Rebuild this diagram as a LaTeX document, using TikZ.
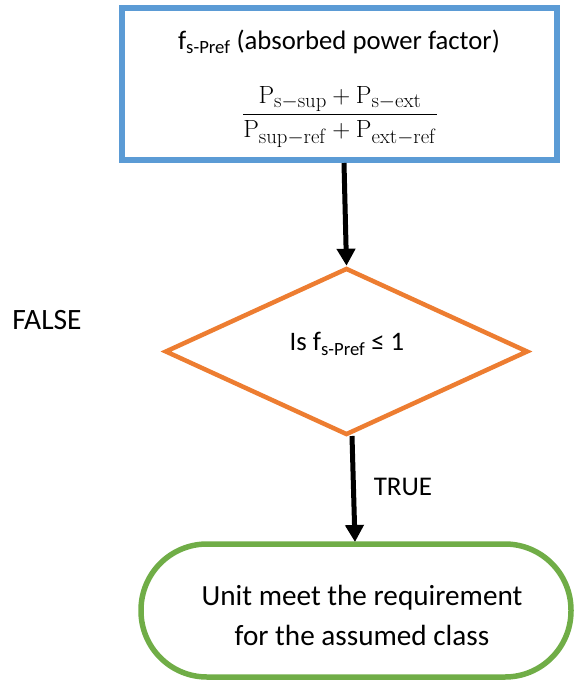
\documentclass[tikz,border=0pt]{standalone}
\usepackage[no-math]{fontspec}
\setmainfont{Carlito}
\DeclareMathSizes{26}{26}{21}{16}
\usetikzlibrary{arrows.meta,shapes.geometric}
\definecolor{boxblue}{HTML}{5B9BD5}
\definecolor{decorange}{HTML}{ED7D31}
\definecolor{endgreen}{HTML}{70AD47}
\tikzset{
  txt/.style={inner sep=0pt, align=center},
  procbox/.style={draw=boxblue, line width=5.5pt, minimum width=435pt, minimum height=152pt, inner sep=0pt},
  decbox/.style={draw=decorange, line width=4.5pt, shape=diamond, minimum width=363pt, minimum height=167pt, inner sep=0pt},
  termbox/.style={draw=endgreen, line width=5.5pt, rounded corners=66pt, minimum width=430pt, minimum height=133pt, inner sep=0pt},
  flow/.style={line width=5pt, -{Triangle[width=18pt,length=17pt]}},
}
\begin{document}
\begin{tikzpicture}[x=1pt,y=-1pt]
  \useasboundingbox (0,0) rectangle (574,681);

  % process box with the absorbed power factor
  \node[procbox] (calc) at (339.5,84) {};
  \node[txt, font=\fontsize{26.7}{32}\selectfont] (title) at (339,42) {f\textsubscript{s-Pref} (absorbed power factor)};
  \node[txt, font=\fontsize{26}{32}\selectfont] (formula) at (340,117)
    {$\displaystyle\frac{\mathrm{P}_{\mathrm{s-sup}}+\mathrm{P}_{\mathrm{s-ext}}}{\mathrm{P}_{\mathrm{sup-ref}}+\mathrm{P}_{\mathrm{ext-ref}}}$};

  % decision
  \node[decbox] (test) at (346.5,351.5) {};
  \node[txt, font=\fontsize{26.7}{32}\selectfont] (testtext) at (347,344) {Is f\textsubscript{s-Pref} ≤ 1};

  % terminal
  \node[termbox] (done) at (356,610.5) {};
  \node[txt, font=\fontsize{29.2}{40}\selectfont] (donetext) at (362,615) {Unit meet the requirement\\for the assumed class};

  % branch labels
  \node[txt, font=\fontsize{29.5}{36}\selectfont] (false) at (47,320) {FALSE};
  \node[txt, font=\fontsize{27}{32}\selectfont] (true) at (403,487) {TRUE};

  % connectors
  \coordinate (c1) at (344,163);
  \coordinate (c2) at (352,436);
  \coordinate (c3) at (355,542);
  \draw[flow] (c1) -- (test.north);
  \draw[flow] (c2) -- (c3);
\end{tikzpicture}
\end{document}
